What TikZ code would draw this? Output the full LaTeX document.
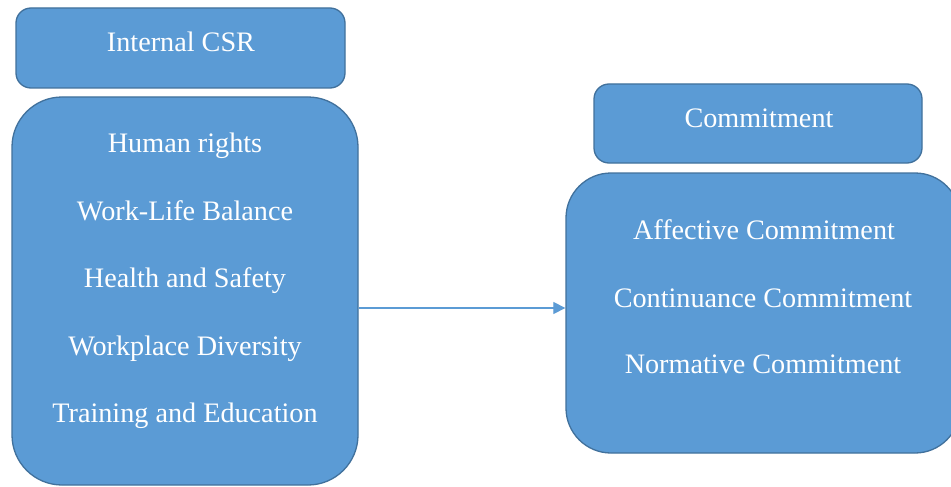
\documentclass[tikz,border=0pt]{standalone}
\usepackage{fontspec}
\setmainfont{Liberation Serif}
\usetikzlibrary{calc,arrows.meta}
\definecolor{boxfill}{HTML}{5B9BD5}
\definecolor{boxline}{HTML}{41719C}
\tikzset{
  box/.style={draw=boxline, fill=boxfill, line width=1.3pt, inner sep=0pt},
  lbl/.style={text=white, font=\fontsize{28.2}{34}\selectfont, inner sep=0pt, anchor=base},
  conn/.style={draw=boxfill, line width=1.2pt, -{Triangle[length=12pt,width=12pt]}}
}
\begin{document}
\begin{tikzpicture}[x=1pt,y=-1pt]
\useasboundingbox (0,0) rectangle (951,487);
\clip (0,0) rectangle (951,487);
\fill[white] (0,0) rectangle (951,487);
% left
\node[box, rounded corners=15pt, minimum width=329pt, minimum height=80pt] (csr) at (180.5,48) {};
\node[lbl] (csrt) at (181,52) {Internal CSR};
\node[box, rounded corners=50pt, minimum width=346pt, minimum height=388pt] (L) at (185,291) {};
\node[lbl] (l1) at (185,152) {Human rights};
\node[lbl] (l2) at (185,220) {Work-Life Balance};
\node[lbl] (l3) at (185,287) {Health and Safety};
\node[lbl] (l4) at (185,355) {Workplace Diversity};
\node[lbl] (l5) at (185,422) {Training and Education};
% right
\node[box, rounded corners=15pt, minimum width=328pt, minimum height=79pt] (com) at (758,123.5) {};
\node[lbl] (comt) at (759,127) {Commitment};
\node[box, rounded corners=45pt, minimum width=394pt, minimum height=280pt] (R) at (763,313) {};
\node[lbl] (r1) at (764,239) {Affective Commitment};
\node[lbl] (r2) at (763,307) {Continuance Commitment};
\node[lbl] (r3) at (763,373) {Normative Commitment};
% connector
\draw[conn] ($(L.east)+(0,17)$) -- ($(R.west)+(0,-5)$);
\end{tikzpicture}
\end{document}
